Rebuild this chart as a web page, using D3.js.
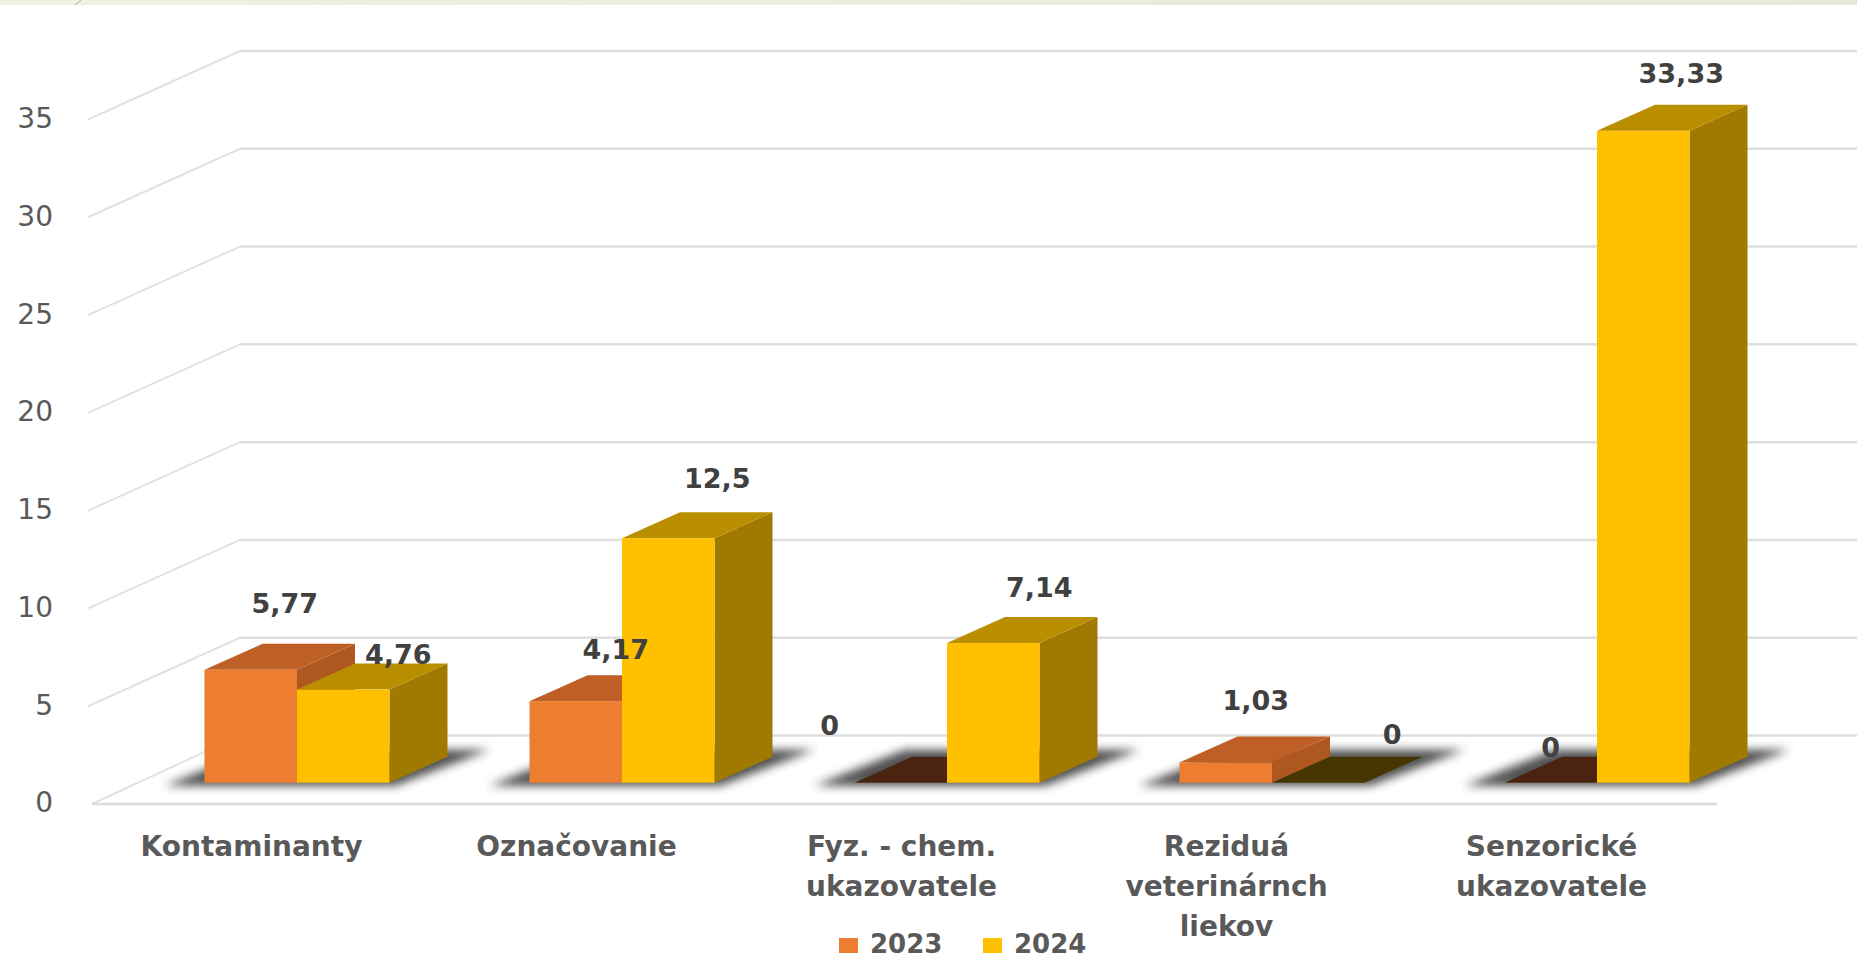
<!DOCTYPE html>
<html>
<head>
<meta charset="utf-8">
<script src="https://cdn.jsdelivr.net/npm/d3@7"></script>
<style>
    html, body { margin: 0; padding: 0; background: #fff; overflow: hidden; }
    text { font-family: "DejaVu Sans", sans-serif; }
</style>
</head>
<body>
<div id="chart"></div>
<script>
//Data
var categories = ["Kontaminanty", "Označovanie", "Fyz. - chem. ukazovatele", "Reziduá veterinárnch liekov", "Senzorické ukazovatele"];
var categoryLines = [["Kontaminanty"], ["Označovanie"], ["Fyz. - chem.", "ukazovatele"], ["Reziduá", "veterinárnch", "liekov"], ["Senzorické", "ukazovatele"]];
var seriesNames = ["2023", "2024"];
var values2023 = [5.77, 4.17, 0, 1.03, 0];
var values2024 = [4.76, 12.5, 7.14, 0, 33.33];
var yTicks = [0, 5, 10, 15, 20, 25, 30, 35];

//Manually moved data labels, [dx, dy] from the middle of the bar's top front edge
var labelShift2023 = [[34, -67], [40, -52], [-71, -57], [30, -62], [0, -35]];
var labelShift2024 = [[55, -35], [49, -60], [46, -56], [74, -48], [38, -58]];

//Colours: front, top, side, empty bar
var colors2023 = {front: "#ED7D31", top: "#BE5F25", side: "#AE5820", empty: "#4A2410"};
var colors2024 = {front: "#FFC000", top: "#B98F00", side: "#A07A00", empty: "#473600"};

var width = 1857;
var height = 959;
var wall = {dx: 152, dy: -68.5};   //depth of the chart floor
var depth = {dx: 58, dy: -26};     //depth of one bar
var barLift = -21.3;               //bars stand this far behind the front edge

var svg = d3.select("#chart").append("svg")
    .attr("width", width)
    .attr("height", height)
    .style("display", "block");

var defs = svg.append("defs");

defs.append("filter")
    .attr("id", "shadowBlur")
    .attr("x", "-20%").attr("y", "-50%")
    .attr("width", "140%").attr("height", "200%")
    .append("feGaussianBlur")
    .attr("stdDeviation", 5);

var bandGrad = defs.append("linearGradient").attr("id", "topBand");
bandGrad.append("stop").attr("offset", "0%").attr("stop-color", "#EEF2E0");
bandGrad.append("stop").attr("offset", "100%").attr("stop-color", "#E4EBD4");

//Scales
var x = d3.scaleBand()
    .domain(categories)
    .range([134.5, 1759.5])
    .paddingInner(140 / 325)
    .paddingOuter(70 / 325);

var y = d3.scaleLinear()
    .domain([0, 35])
    .range([804, 119.5]);

var series = d3.scaleBand()
    .domain(seriesNames)
    .range([0, x.bandwidth()]);

//Strip at the top of the slide
svg.append("rect")
    .attr("width", width)
    .attr("height", 5)
    .attr("fill", "url(#topBand)");

svg.append("path")
    .attr("d", "M75,5 Q78,3 81,0")
    .attr("fill", "none")
    .attr("stroke", "#A9AF92")
    .attr("stroke-width", 1);

//Gridlines: slanted part on the side wall, straight part on the back wall
var grid = svg.append("g").attr("class", "grid");

grid.selectAll(".side")
    .data(yTicks)
    .enter()
    .append("line")
    .attr("x1", function(d) { return d === 0 ? 92 : 88; })
    .attr("y1", function(d) { return y(d); })
    .attr("x2", 88 + wall.dx)
    .attr("y2", function(d) { return y(d) + wall.dy; })
    .attr("stroke", "#E2E2E2")
    .attr("stroke-width", 2);

grid.selectAll(".back")
    .data(yTicks)
    .enter()
    .append("line")
    .attr("x1", 88 + wall.dx)
    .attr("y1", function(d) { return y(d) + wall.dy; })
    .attr("x2", width)
    .attr("y2", function(d) { return y(d) + wall.dy; })
    .attr("stroke", "#DEDEDE")
    .attr("stroke-width", 2.5);

grid.append("line")
    .attr("x1", 92)
    .attr("y1", y(0))
    .attr("x2", 1717)
    .attr("y2", y(0))
    .attr("stroke", "#DCDCDC")
    .attr("stroke-width", 2.5);

//Shadows on the floor
var baseY = y(0) + barLift;

svg.append("g")
    .selectAll("polygon")
    .data(categories)
    .enter()
    .append("polygon")
    .attr("points", function(d) {
        var left = x(d);
        var right = left + x.bandwidth();
        return [[left - 40, baseY + 3], [right + 6, baseY + 3], [right + 100, baseY - 33], [left + 50, baseY - 33]].join(" ");
    })
    .attr("fill", "#3C3C3C")
    .attr("opacity", 0.9)
    .attr("filter", "url(#shadowBlur)");

//One entry per bar, the order is the drawing order
var bars = [];
categories.forEach(function(c, i) {
    bars.push({cat: c, name: seriesNames[0], value: values2023[i], colors: colors2023, shift: labelShift2023[i]});
    bars.push({cat: c, name: seriesNames[1], value: values2024[i], colors: colors2024, shift: labelShift2024[i]});
});

function barLeft(d) { return x(d.cat) + series(d.name); }
function barRight(d) { return barLeft(d) + series.bandwidth(); }
function barTop(d) { return y(d.value) + barLift; }

var barGroups = svg.append("g")
    .selectAll("g")
    .data(bars)
    .enter()
    .append("g");

//Side face
barGroups.filter(function(d) { return d.value > 0; })
    .append("polygon")
    .attr("points", function(d) {
        return [[barRight(d), barTop(d)], [barRight(d) + depth.dx, barTop(d) + depth.dy],
            [barRight(d) + depth.dx, baseY + depth.dy], [barRight(d), baseY]].join(" ");
    })
    .attr("fill", function(d) { return d.colors.side; });

//Top face, a zero bar only shows this one in a dark colour
barGroups.append("polygon")
    .attr("points", function(d) {
        return [[barLeft(d), barTop(d)], [barRight(d), barTop(d)],
            [barRight(d) + depth.dx, barTop(d) + depth.dy], [barLeft(d) + depth.dx, barTop(d) + depth.dy]].join(" ");
    })
    .attr("fill", function(d) { return d.value > 0 ? d.colors.top : d.colors.empty; });

//Front face
barGroups.filter(function(d) { return d.value > 0; })
    .append("rect")
    .attr("x", barLeft)
    .attr("y", barTop)
    .attr("width", series.bandwidth())
    .attr("height", function(d) { return baseY - barTop(d); })
    .attr("fill", function(d) { return d.colors.front; });

//Data labels
svg.append("g")
    .selectAll("text")
    .data(bars)
    .enter()
    .append("text")
    .attr("x", function(d) { return barLeft(d) + series.bandwidth() / 2 + d.shift[0]; })
    .attr("y", function(d) { return barTop(d) + d.shift[1]; })
    .attr("dy", "0.36em")
    .attr("text-anchor", "middle")
    .style("font-size", "27px")
    .style("font-weight", "bold")
    .style("fill", "#404040")
    .text(function(d) { return String(d.value).replace(".", ","); });

//Y axis, only the labels are visible
var yAxis = svg.append("g")
    .attr("transform", "translate(53,-1)")
    .call(d3.axisLeft(y).tickValues(yTicks).tickSize(0).tickPadding(0));

yAxis.select(".domain").remove();
yAxis.selectAll("text")
    .style("font-family", "'DejaVu Sans', sans-serif")
    .style("font-size", "28px")
    .style("fill", "#595959");

//X axis, labels sit left of the bar groups and wrap by hand
var xAxis = svg.append("g")
    .attr("transform", "translate(-45.5,832)")
    .call(d3.axisBottom(x).tickSize(0).tickFormat(""));

xAxis.select(".domain").remove();
xAxis.selectAll(".tick text")
    .attr("y", 0)
    .attr("dy", null)
    .style("font-family", "'DejaVu Sans', sans-serif")
    .style("font-size", "28px")
    .style("font-weight", "bold")
    .style("fill", "#595959")
    .each(function(d, i) {
        d3.select(this).selectAll("tspan")
            .data(categoryLines[i])
            .enter()
            .append("tspan")
            .attr("x", 0)
            .attr("y", function(line, j) { return 24 + j * 40; })
            .text(function(line) { return line; });
    });

//Legend
var legend = svg.selectAll(".legend")
    .data(seriesNames)
    .enter()
    .append("g")
    .attr("class", "legend")
    .attr("transform", function(d, i) { return "translate(" + (839 + i * 144) + ",0)"; });

legend.append("rect")
    .attr("y", 938)
    .attr("width", 19)
    .attr("height", 15)
    .attr("fill", function(d, i) { return i === 0 ? colors2023.front : colors2024.front; });

legend.append("text")
    .attr("x", 31)
    .attr("y", 952.5)
    .style("font-size", "26px")
    .style("font-weight", "bold")
    .style("fill", "#595959")
    .text(function(d) { return d; });
</script>
</body>
</html>
